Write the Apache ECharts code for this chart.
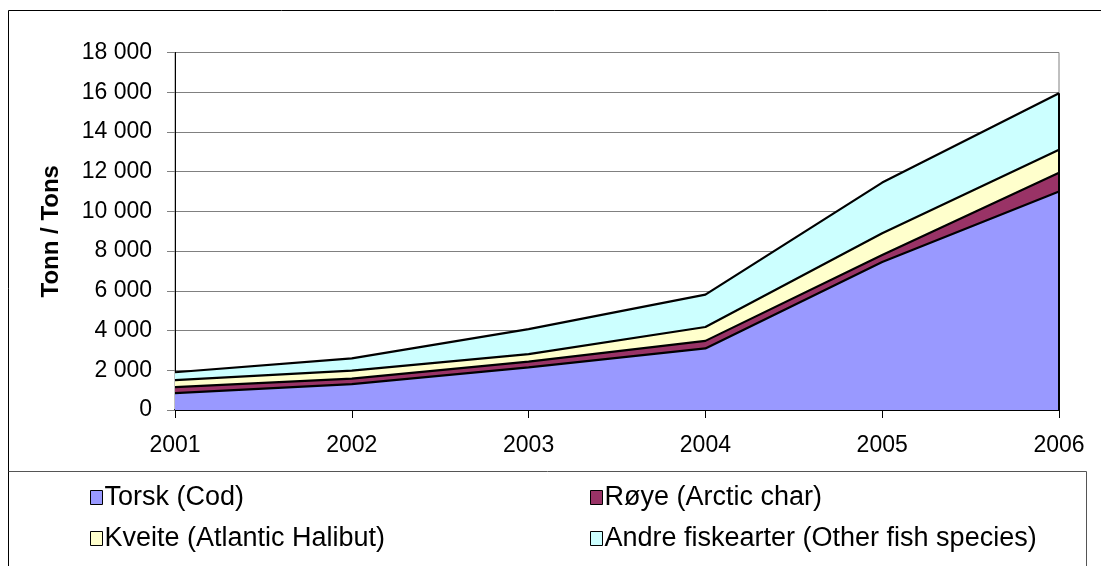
<!DOCTYPE html>
<html>
<head>
<meta charset="utf-8">
<script src="https://cdn.jsdelivr.net/npm/echarts@6/dist/echarts.min.js"></script>
<style>
html,body{margin:0;padding:0;background:#fff;}
#c{width:1101px;height:566px;}
</style>
</head>
<body>
<div id="c"></div>
<script>
var years = ['2001','2002','2003','2004','2005','2006'];
var torsk  = [850, 1300, 2150, 3100, 7450, 11000];
var roye   = [300, 280, 290, 380, 350, 950];
var kveite = [350, 400, 370, 700, 1100, 1150];
var andre  = [400, 620, 1260, 1630, 2550, 2850];
var seriesNames = ['Torsk (Cod)', 'Røye (Arctic char)', 'Kveite (Atlantic Halibut)', 'Andre fiskearter (Other fish species)'];
var seriesColors = ['#9999FF', '#993366', '#FFFFCC', '#CCFFFF'];
var yTickMax = 18000, yTickStep = 2000;
var axisName = 'Tonn / Tons';

var FONT = '"Liberation Sans", Arial, sans-serif';
var chart = echarts.init(document.getElementById('c'), null, {renderer: 'canvas'});

function fmt(v){ return String(v).replace(/\B(?=(\d{3})+(?!\d))/g, ' '); }

var dataSets = [torsk, roye, kveite, andre];
var last = years.length - 1;
var lastTotal = dataSets.reduce(function(s, d){ return s + d[last]; }, 0);

var series = dataSets.map(function(d, i){
  var s = {
    name: seriesNames[i], type: 'line', stack: 'total', data: d,
    showSymbol: false, symbol: 'none', smooth: false,
    color: seriesColors[i],
    itemStyle: {color: seriesColors[i]},
    lineStyle: {color: '#000', width: 2.2},
    areaStyle: {color: seriesColors[i], opacity: 1},
    emphasis: {disabled: true},
    z: 2
  };
  if (i === dataSets.length - 1) {
    s.markLine = {
      silent: true, symbol: ['none', 'none'], label: {show: false},
      lineStyle: {color: '#000', width: 2, type: 'solid'},
      data: [[{coord: [years[last], 0]}, {coord: [years[last], lastTotal]}]]
    };
  }
  return s;
});

function leg(name, left, top){
  return {
    data: [name], left: left, top: top, orient: 'horizontal',
    icon: 'rect', itemWidth: 12, itemHeight: 14, itemGap: 4,
    itemStyle: {borderColor: '#000', borderWidth: 1},
    textStyle: {fontFamily: FONT, fontSize: 27, color: '#000', padding: [0,0,0,-3]},
    selectedMode: false, padding: 0
  };
}

chart.setOption({
  animation: false,
  backgroundColor: '#fff',
  graphic: [
    {type: 'polyline', shape: {points: [[8.5,566],[8.5,10.5],[1101,10.5]]}, style: {stroke: '#000', lineWidth: 1, fill: null}, silent: true},
    {type: 'polyline', shape: {points: [[8.5,471.5],[1086.5,471.5],[1086.5,566]]}, style: {stroke: '#555', lineWidth: 1, fill: null}, silent: true}
  ],
  grid: {left: 175, right: 42, top: 52.5, bottom: 156, show: true, borderColor: '#808080', borderWidth: 1, backgroundColor: 'transparent'},
  legend: [
    leg(seriesNames[0], 90, 484),
    leg(seriesNames[1], 590, 484),
    leg(seriesNames[2], 90, 525),
    leg(seriesNames[3], 590, 525)
  ],
  xAxis: {
    type: 'category', data: years, boundaryGap: false,
    axisLine: {show: true, lineStyle: {color: '#000', width: 2}},
    axisTick: {show: true, length: 8, lineStyle: {color: '#000', width: 1}},
    axisLabel: {fontFamily: FONT, fontSize: 23, color: '#000', margin: 24},
    splitLine: {show: false}
  },
  yAxis: {
    type: 'value', min: 0, max: yTickMax, interval: yTickStep,
    name: axisName, nameLocation: 'middle', nameGap: 112, nameRotate: 90,
    nameTextStyle: {fontFamily: FONT, fontSize: 24, fontWeight: 'bold', color: '#000'},
    axisLine: {show: true, lineStyle: {color: '#000', width: 1}},
    axisTick: {show: true, length: 8, lineStyle: {color: '#808080', width: 1}},
    axisLabel: {fontFamily: FONT, fontSize: 23, color: '#000', margin: 23, formatter: fmt},
    splitLine: {show: true, lineStyle: {color: '#808080', width: 1}}
  },
  series: series
});
</script>
</body>
</html>
